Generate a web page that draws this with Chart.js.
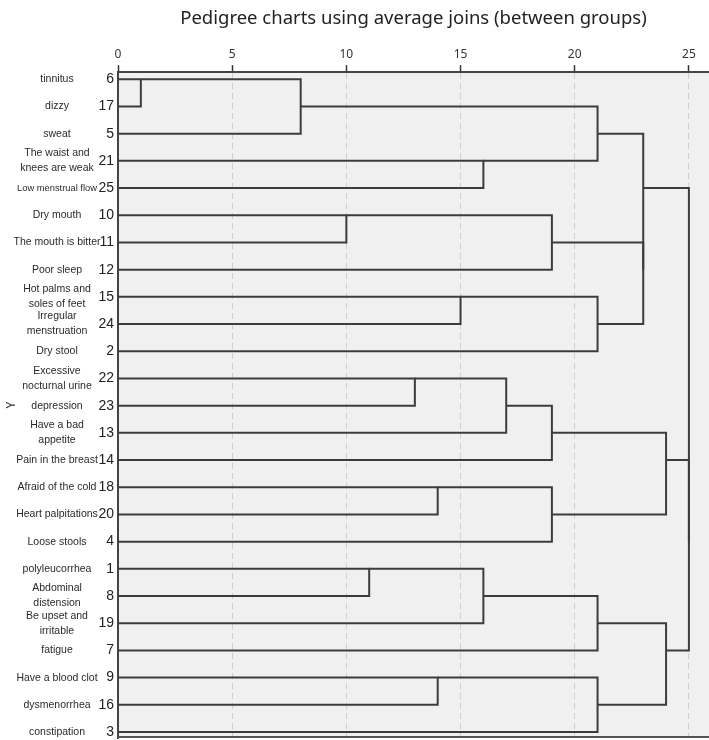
<!DOCTYPE html>
<html>
<head>
<meta charset="utf-8">
<script src="https://cdn.jsdelivr.net/npm/chart.js@4/dist/chart.umd.min.js"></script>
<style>
  body { margin: 0; background: #fff; }
  #wrap { width: 709px; height: 740px; }
</style>
</head>
<body>
<div id="wrap"><canvas id="dendro"></canvas></div>
<script>
// leaves, top to bottom
const leafIds = [6, 17, 5, 21, 25, 10, 11, 12, 15, 24, 2, 22, 23, 13, 14, 18, 20, 4, 1, 8, 19, 7, 9, 16, 3];
const leafNames = [
  "tinnitus", "dizzy", "sweat", "The waist and\nknees are weak", "Low menstrual flow",
  "Dry mouth", "The mouth is bitter", "Poor sleep", "Hot palms and\nsoles of feet", "Irregular\nmenstruation",
  "Dry stool", "Excessive\nnocturnal urine", "depression", "Have a bad\nappetite", "Pain in the breast",
  "Afraid of the cold", "Heart palpitations", "Loose stools", "polyleucorrhea", "Abdominal\ndistension",
  "Be upset and\nirritable", "fatigue", "Have a blood clot", "dysmenorrhea", "constipation"
];

// merges: cluster ids 0..24 are leaves, each merge makes id 25, 26, ...
const mergeLeft   = [0, 25, 5, 18, 11, 15, 22, 8, 3, 28, 29, 27, 35, 30, 26, 32, 34, 31, 36, 39, 37, 41, 45, 44];
const mergeRight  = [1, 2, 6, 19, 12, 16, 23, 9, 4, 20, 13, 7, 14, 17, 33, 10, 21, 24, 40, 43, 38, 42, 46, 47];
const mergeHeight = [1, 8, 10, 11, 13, 14, 14, 15, 16, 16, 17, 19, 19, 19, 21, 21, 21, 21, 23, 23, 24, 24, 25, 25];

const xTicks = [0, 5, 10, 15, 20, 25];

// work out where each cluster sits (row) and at what height it was formed
const clRow = leafIds.map((d, i) => i);
const clH = leafIds.map(() => 0);
const datasets = [];
mergeLeft.forEach((a, i) => {
  const b = mergeRight[i];
  const h = mergeHeight[i];
  datasets.push({
    data: [
      {x: clH[a], y: clRow[a]},
      {x: h, y: clRow[a]},
      {x: h, y: clRow[b]},
      {x: clH[b], y: clRow[b]}
    ],
    showLine: true,
    borderColor: "#3c3c3c",
    borderWidth: 2,
    pointRadius: 0,
    fill: false
  });
  clRow.push(Math.floor((clRow[a] + clRow[b]) / 2));
  clH.push(h);
});

const plotBg = {
  id: "plotBg",
  beforeDraw(chart) {
    const {ctx, chartArea: a} = chart;
    ctx.save();
    ctx.fillStyle = "#f0f0f0";
    ctx.fillRect(a.left, a.top, a.right - a.left, a.bottom - a.top);
    ctx.restore();
  },
  afterDraw(chart) {
    const {ctx, chartArea: a, scales} = chart;
    ctx.save();
    // bottom edge
    ctx.strokeStyle = "#555";
    ctx.lineWidth = 2;
    ctx.beginPath();
    ctx.moveTo(a.left, a.bottom - 1);
    ctx.lineTo(a.right, a.bottom - 1);
    ctx.stroke();
    // symptom names
    ctx.fillStyle = "#2a2a2a";
    ctx.textAlign = "center";
    ctx.textBaseline = "middle";
    leafNames.forEach((name, i) => {
      const lines = name.split("\n");
      const yc = scales.y.getPixelForValue(i);
      lines.forEach((ln, k) => {
        let size = 10.5;
        ctx.font = size + "px 'Liberation Sans', Arial, sans-serif";
        const w = ctx.measureText(ln).width;
        if (w > 88) {
          size = size * 80 / w;
          ctx.font = size + "px 'Liberation Sans', Arial, sans-serif";
        }
        ctx.fillText(ln, 57, yc + (k - (lines.length - 1) / 2) * 15);
      });
    });
    ctx.restore();
  }
};

new Chart(document.getElementById("dendro"), {
  type: "scatter",
  data: { datasets: datasets },
  options: {
    responsive: true,
    maintainAspectRatio: false,
    animation: false,
    layout: { padding: { left: 0, right: 0, top: 0, bottom: 2 } },
    plugins: {
      legend: { display: false },
      tooltip: { enabled: false },
      title: {
        display: true,
        fullSize: false,
        text: "Pedigree charts using average joins (between groups)",
        color: "#222",
        font: { family: "'Noto Sans', sans-serif", size: 18.5, weight: "normal" },
        padding: { top: 8, bottom: 4 }
      }
    },
    scales: {
      x: {
        type: "linear",
        position: "top",
        min: 0,
        max: 25.88,
        afterBuildTicks: s => { s.ticks = xTicks.map(v => ({value: v})); },
        afterFit: s => { s.height = 38; s.paddingLeft = 0; s.paddingRight = 0; },
        ticks: {
          color: "#333",
          padding: 3,
          font: { family: "'Noto Sans', sans-serif", size: 12 }
        },
        grid: {
          color: "#cfcfcf",
          lineWidth: 1,
          tickLength: 7,
          tickColor: "#333",
          tickWidth: 1.5
        },
        border: { color: "#444", width: 2, dash: [6, 4] }
      },
      y: {
        type: "linear",
        reverse: true,
        min: -0.26,
        max: 24.22,
        afterBuildTicks: s => { s.ticks = leafIds.map((d, i) => ({value: i})); },
        afterFit: s => { s.width = 118; s.paddingTop = 0; s.paddingBottom = 0; },
        ticks: {
          color: "#222",
          padding: 4,
          crossAlign: "near",
          autoSkip: false,
          font: { family: "'Liberation Sans', Arial, sans-serif", size: 14 },
          callback: v => leafIds[v]
        },
        grid: { display: false, drawTicks: false },
        border: { display: true, color: "#444", width: 2 },
        title: {
          display: true,
          text: "Y",
          color: "#333",
          font: { family: "'Noto Sans', sans-serif", size: 12 }
        }
      }
    }
  },
  plugins: [plotBg]
});
</script>
</body>
</html>
